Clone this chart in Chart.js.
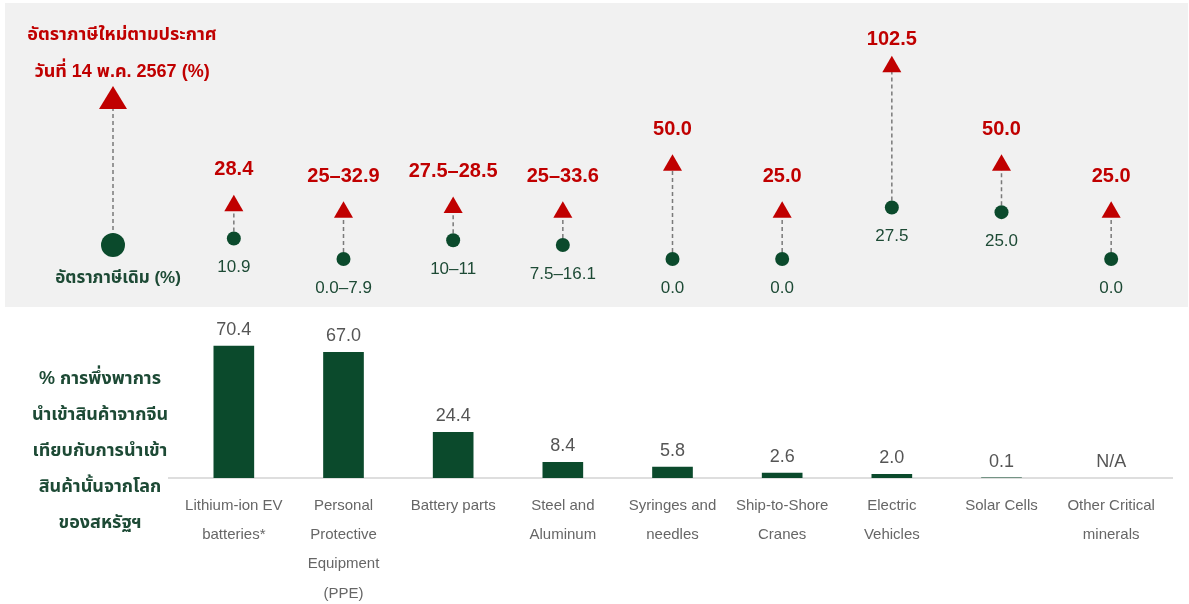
<!DOCTYPE html>
<html>
<head>
<meta charset="utf-8">
<script src="https://cdn.jsdelivr.net/npm/chart.js@4.4.1/dist/chart.umd.min.js"></script>
<style>
  html, body { margin: 0; padding: 0; background: #fff; }
  #wrap { width: 1189px; height: 604px; position: relative; }
</style>
</head>
<body>
<div id="wrap"><canvas id="mycanvas"></canvas></div>
<script>
// categories (x labels, multi line)
const categories = [
  ['Lithium-ion EV', 'batteries*'],
  ['Personal', 'Protective', 'Equipment', '(PPE)'],
  ['Battery parts'],
  ['Steel and', 'Aluminum'],
  ['Syringes and', 'needles'],
  ['Ship-to-Shore', 'Cranes'],
  ['Electric', 'Vehicles'],
  ['Solar Cells'],
  ['Other Critical', 'minerals']
];
// old tariff (%), lower bound used for position
const oldRate = [10.9, 0.0, 10, 7.5, 0.0, 0.0, 27.5, 25.0, 0.0];
const oldRateText = ['10.9', '0.0–7.9', '10–11', '7.5–16.1', '0.0', '0.0', '27.5', '25.0', '0.0'];
// new tariff announced 14 May 2024 (%)
const newRate = [28.4, 25, 27.5, 25, 50.0, 25.0, 102.5, 50.0, 25.0];
const newRateText = ['28.4', '25–32.9', '27.5–28.5', '25–33.6', '50.0', '25.0', '102.5', '50.0', '25.0'];
// share of US imports coming from China (%)
const chinaShare = [70.4, 67.0, 24.4, 8.4, 5.8, 2.6, 2.0, 0.1, null];
const chinaShareText = ['70.4', '67.0', '24.4', '8.4', '5.8', '2.6', '2.0', '0.1', 'N/A'];

const legendNew = ['อัตราภาษีใหม่ตามประกาศ', 'วันที่ 14 พ.ค. 2567 (%)'];
const legendOld = 'อัตราภาษีเดิม (%)';
const barTitle = ['% การพึ่งพาการ', 'นำเข้าสินค้าจากจีน', 'เทียบกับการนำเข้า', 'สินค้านั้นจากโลก', 'ของสหรัฐฯ'];

const RED = '#c00000';
const GREEN = '#0b4a2c';
const FONT = "'Liberation Sans', Arial, 'Noto Sans Thai', 'Noto Sans', sans-serif";

const panelPlugin = {
  id: 'panel',
  beforeDraw(chart) {
    const ctx = chart.ctx;
    ctx.save();
    ctx.fillStyle = '#f1f1f1';
    ctx.fillRect(5, 3, 1183, 304);
    ctx.restore();
  }
};

const connectorPlugin = {
  id: 'connector',
  beforeDatasetsDraw(chart) {
    const ctx = chart.ctx;
    const area = chart.chartArea;
    const oldMeta = chart.getDatasetMeta(1);
    const newMeta = chart.getDatasetMeta(2);
    ctx.save();
    // baseline of the bars
    ctx.strokeStyle = '#dedede';
    ctx.lineWidth = 2;
    ctx.beginPath();
    ctx.moveTo(area.left - 11, area.bottom);
    ctx.lineTo(area.right + 7, area.bottom);
    ctx.stroke();

    ctx.strokeStyle = '#7a7a7a';
    ctx.lineWidth = 1.5;
    ctx.setLineDash([4, 3]);
    for (let i = 0; i < oldMeta.data.length; i++) {
      const a = oldMeta.data[i], b = newMeta.data[i];
      ctx.beginPath();
      ctx.moveTo(a.x, a.y);
      ctx.lineTo(b.x, b.y);
      ctx.stroke();
    }
    // legend glyph
    const lx = area.left - 66;
    ctx.beginPath();
    ctx.moveTo(lx, 100);
    ctx.lineTo(lx, 240);
    ctx.stroke();
    ctx.setLineDash([]);
    ctx.fillStyle = RED;
    ctx.beginPath();
    ctx.moveTo(lx, 86);
    ctx.lineTo(lx + 14, 109);
    ctx.lineTo(lx - 14, 109);
    ctx.closePath();
    ctx.fill();
    ctx.fillStyle = GREEN;
    ctx.beginPath();
    ctx.arc(lx, 245, 12, 0, Math.PI * 2);
    ctx.fill();
    ctx.restore();
  }
};

const labelPlugin = {
  id: 'labels',
  afterDatasetsDraw(chart) {
    const ctx = chart.ctx;
    const barMeta = chart.getDatasetMeta(0);
    const oldMeta = chart.getDatasetMeta(1);
    const newMeta = chart.getDatasetMeta(2);
    const yBar = chart.scales.yBar;
    ctx.save();
    ctx.textAlign = 'center';
    ctx.textBaseline = 'middle';
    for (let i = 0; i < categories.length; i++) {
      ctx.font = 'bold 20px ' + FONT;
      ctx.fillStyle = RED;
      const n = newMeta.data[i];
      ctx.fillText(newRateText[i], n.x, Math.max(n.y - 36, 39));
      ctx.font = '17px ' + FONT;
      ctx.fillStyle = '#1d4a35';
      const o = oldMeta.data[i];
      ctx.fillText(oldRateText[i], o.x, o.y + 29);
      ctx.font = '18px ' + FONT;
      ctx.fillStyle = '#555';
      const b = barMeta.data[i];
      const top = chinaShare[i] == null ? yBar.getPixelForValue(0) : b.y;
      ctx.fillText(chinaShareText[i], b.x, top - 16);
    }
    // legend text
    const lx = chart.chartArea.left - 57;
    ctx.font = 'bold 18px ' + FONT;
    ctx.fillStyle = RED;
    ctx.fillText(legendNew[0], lx, 35);
    ctx.fillText(legendNew[1], lx, 72);
    ctx.fillStyle = '#1d4a35';
    ctx.font = 'bold 17px ' + FONT;
    ctx.fillText(legendOld, lx - 4, 278);
    ctx.font = 'bold 18px ' + FONT;
    for (let k = 0; k < barTitle.length; k++) {
      ctx.fillText(barTitle[k], chart.chartArea.left - 79, 379 + k * 36);
    }
    ctx.restore();
  }
};

const ctx = document.getElementById('mycanvas');
window.myChart = new Chart(ctx, {
  type: 'bar',
  data: {
    labels: categories,
    datasets: [{
      label: 'share',
      data: chinaShare,
      yAxisID: 'yBar',
      backgroundColor: GREEN,
      barThickness: 40,
      order: 3
    }, {
      type: 'line',
      label: 'old',
      data: oldRate,
      yAxisID: 'yTop',
      showLine: false,
      pointStyle: 'circle',
      pointRadius: 7,
      pointBackgroundColor: GREEN,
      pointBorderWidth: 0,
      order: 1
    }, {
      type: 'line',
      label: 'new',
      data: newRate,
      yAxisID: 'yTop',
      showLine: false,
      pointStyle: 'triangle',
      pointRadius: 11,
      pointBackgroundColor: RED,
      pointBorderWidth: 0,
      order: 2
    }]
  },
  options: {
    responsive: true,
    maintainAspectRatio: false,
    animation: false,
    layout: { autoPadding: false, padding: { left: 179, right: 23, top: 0, bottom: 0 } },
    plugins: { legend: { display: false }, tooltip: { enabled: false } },
    scales: {
      x: {
        grid: { display: false, drawTicks: false },
        border: { display: false },
        ticks: {
          color: '#666',
          font: { family: FONT, size: 15, lineHeight: 1.95 },
          padding: 13,
          maxRotation: 0,
          autoSkip: false
        },
        afterFit(axis) { axis.height = 126; }
      },
      yBar: { display: false, min: 0, max: 478 / 1.875 },
      yTop: { display: false, min: -219 / 1.875, max: 259 / 1.875 }
    }
  },
  plugins: [panelPlugin, connectorPlugin, labelPlugin]
});
</script>
</body>
</html>
